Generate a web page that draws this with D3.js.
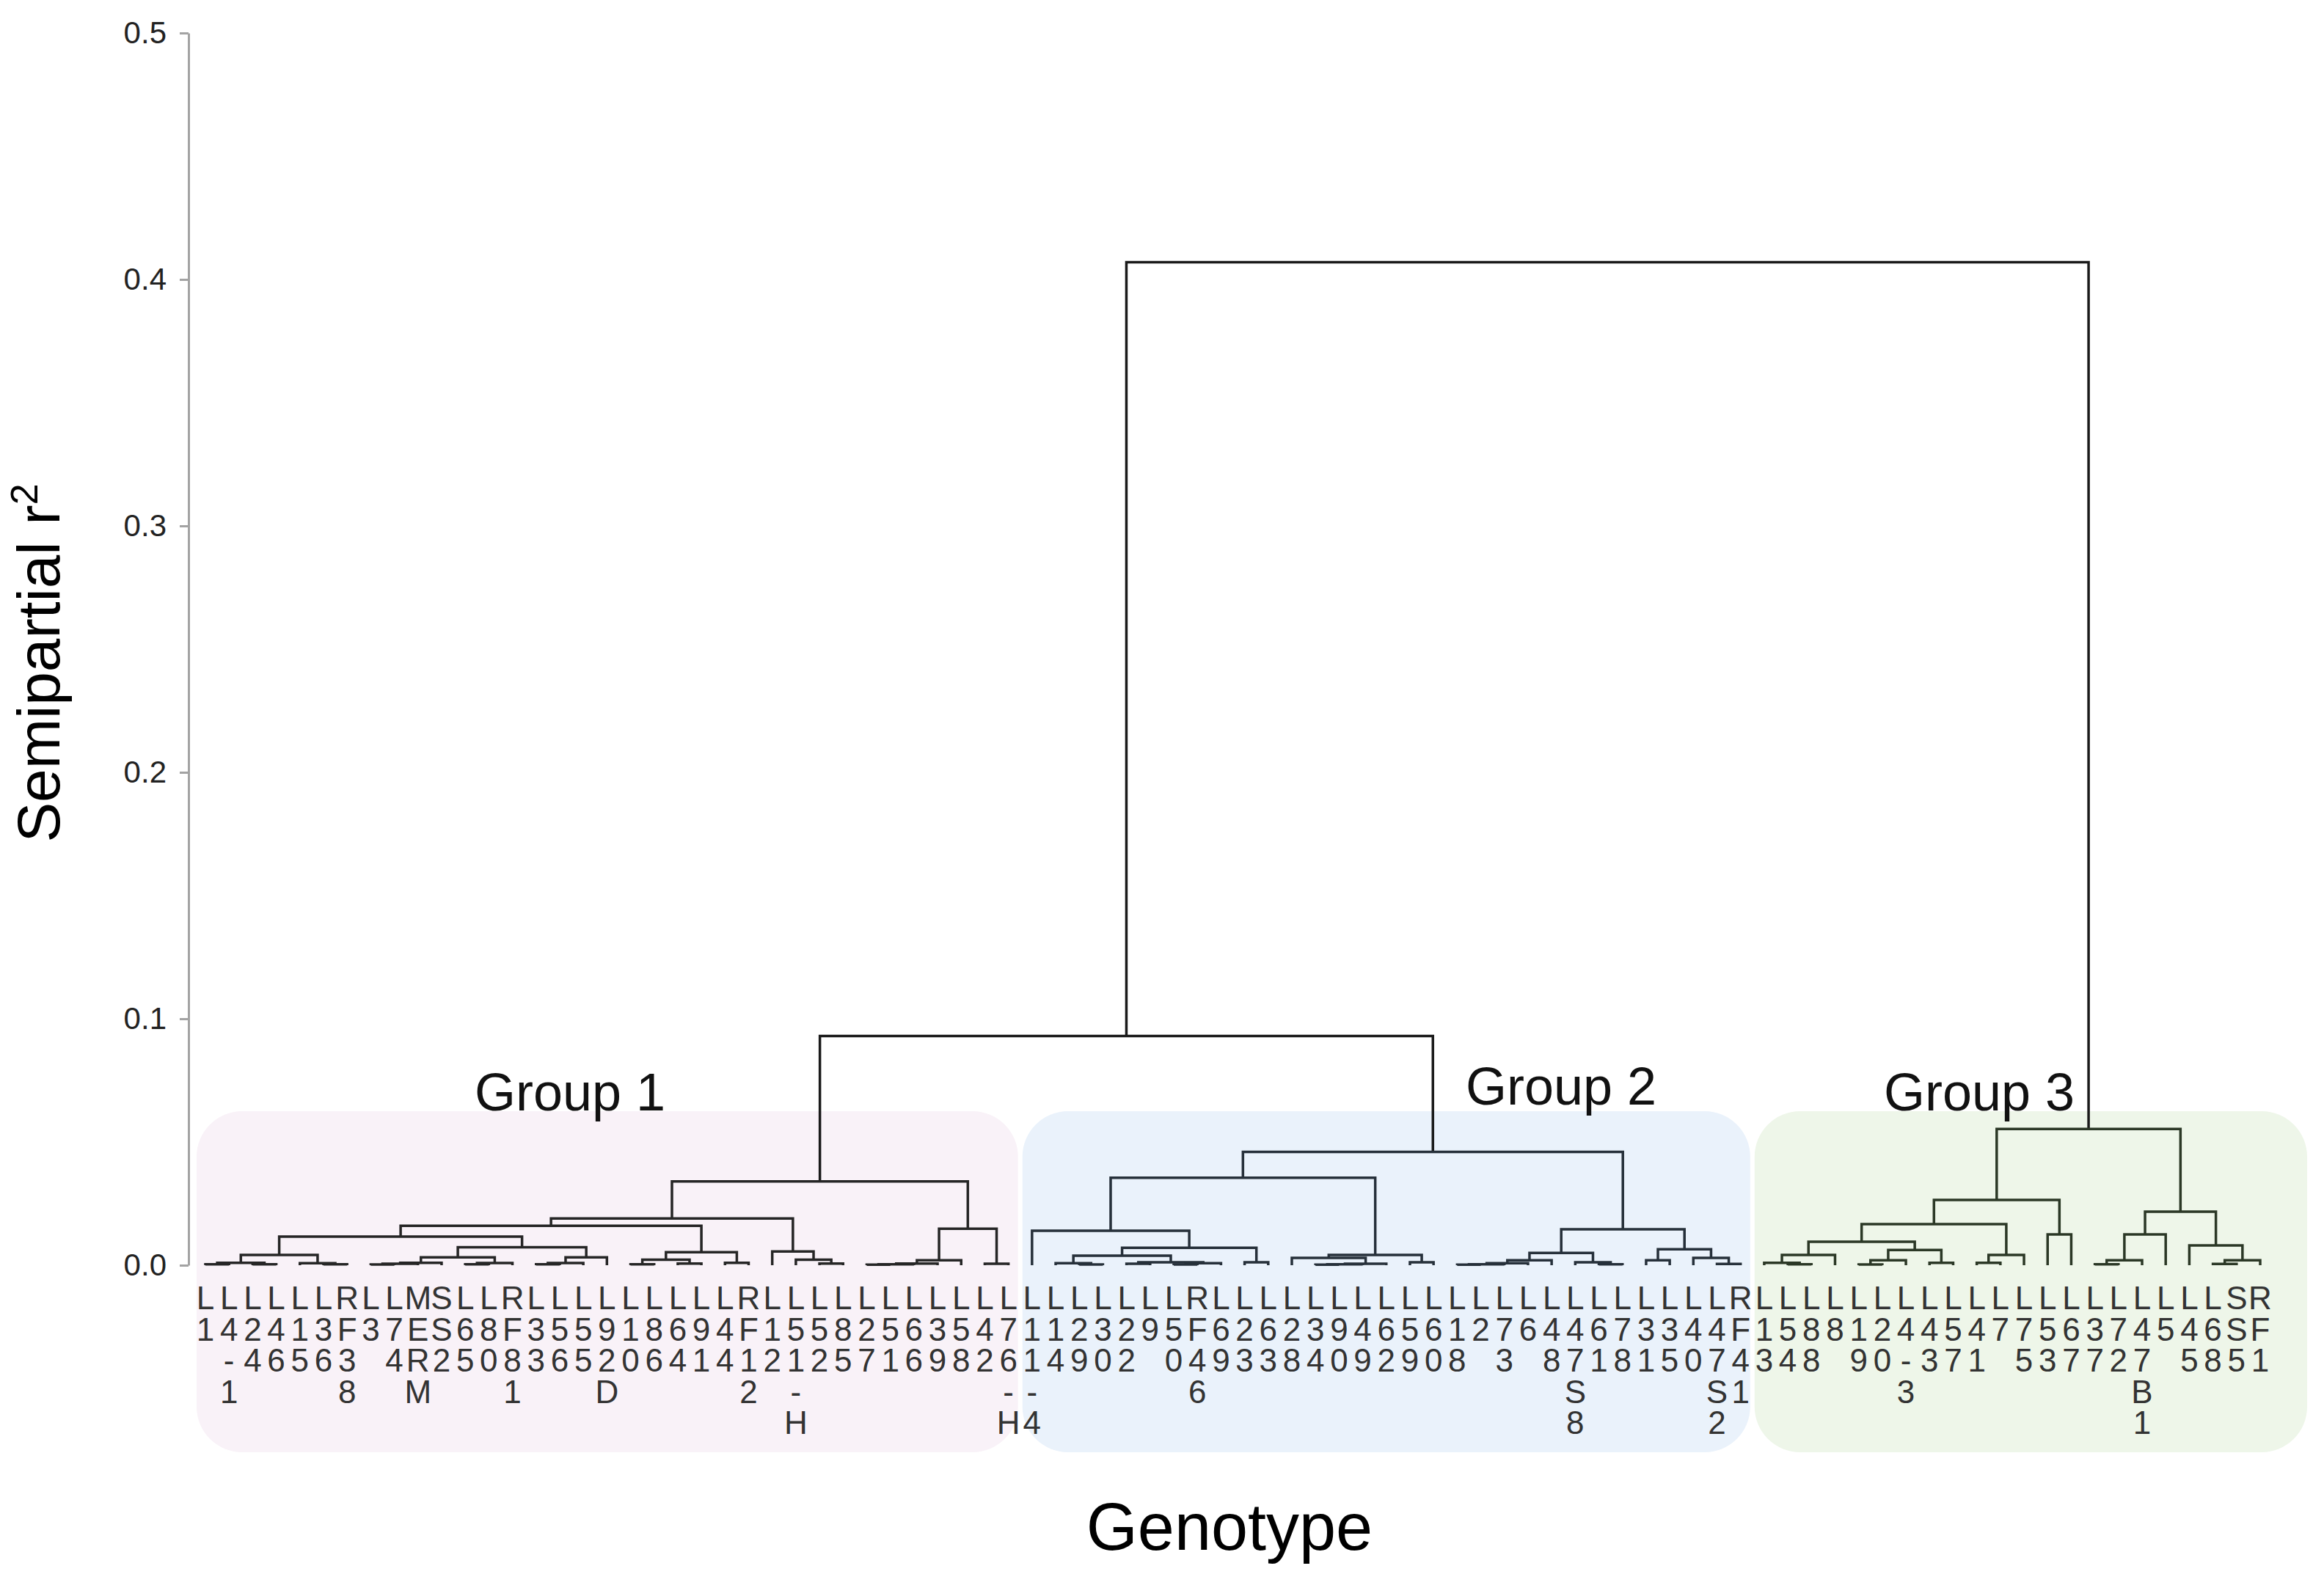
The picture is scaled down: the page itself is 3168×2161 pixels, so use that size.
<!DOCTYPE html>
<html>
<head>
<meta charset="utf-8">
<script src="https://cdn.jsdelivr.net/npm/d3@7"></script>
<style>
  body { margin: 0; background: #fff; }
  text { font-family: "Liberation Sans", Arial, sans-serif; }
</style>
</head>
<body>
<div class="dendro"></div>
<script>
// leaf labels, left to right
const leafLabels = [
  "L1","L4-1","L24","L46","L15","L36","RF38","L3","L74","MERM","SS2","L65","L80","RF81","L33",
  "L56","L55","L92D","L10","L86","L64","L91","L44","RF12","L12","L51-H","L52","L85","L27","L51",
  "L66","L39","L58","L42","L76-H",
  "L11-4","L14","L29","L30","L22","L9","L50","RF46","L69","L23","L63","L28","L34","L90","L49",
  "L62","L59","L60","L18","L2","L73","L6","L48","L47S8","L61","L78","L31","L35","L40","L47S2","RF41",
  "L13","L54","L88","L8","L19","L20","L4-3","L43","L57","L41","L7","L75","L53","L67","L37","L72",
  "L47B1","L5","L45","L68","SS5","RF1"
];

// merges: [left, right, semipartial r2]; negative = leaf number, positive = merge row
const merges = [
  [-1, -2, 0.0004], [-3, -4, 0.0004], [1, 2, 0.0010], [-6, -7, 0.0004], [-5, 4, 0.0008],
  [3, 5, 0.0042], [-8, -9, 0.0003], [7, -10, 0.0006], [8, -11, 0.0010], [-12, -13, 0.0004],
  [10, -14, 0.0009], [9, 11, 0.0032], [-15, -16, 0.0004], [13, -17, 0.0009], [14, -18, 0.0032],
  [12, 15, 0.0073], [6, 16, 0.0116], [-19, -20, 0.0004], [-21, -22, 0.0007], [18, 19, 0.0022],
  [-23, -24, 0.0010], [20, 21, 0.0053], [17, 22, 0.0160], [-27, -28, 0.0007], [-26, 24, 0.0022],
  [-25, 25, 0.0056], [23, 26, 0.0190], [-29, -30, 0.0002], [28, -31, 0.0004], [29, -32, 0.0007],
  [30, -33, 0.0020], [-34, -35, 0.0006], [31, 32, 0.0148], [27, 33, 0.0340],
  [-38, -39, 0.0003], [-37, 35, 0.0008], [-40, -41, 0.0006], [-42, -43, 0.0003], [38, -44, 0.0008],
  [37, 39, 0.0012], [36, 40, 0.0039], [-45, -46, 0.0012], [41, 42, 0.0071], [-36, 43, 0.0140],
  [-48, -49, 0.0002], [45, -50, 0.0004], [46, -51, 0.0006], [-47, 47, 0.0030], [-52, -53, 0.0012],
  [48, 49, 0.0042], [44, 50, 0.0355], [-54, -55, 0.0002], [52, -56, 0.0004], [53, -57, 0.0008],
  [54, -58, 0.0020], [-60, -61, 0.0004], [-59, 56, 0.0012], [55, 57, 0.0050], [-62, -63, 0.0020],
  [-65, -66, 0.0005], [-64, 60, 0.0030], [59, 61, 0.0065], [58, 62, 0.0146], [51, 63, 0.0460],
  [-68, -69, 0.0004], [-67, 65, 0.0010], [66, -70, 0.0042], [-71, -72, 0.0003], [68, -73, 0.0020],
  [-74, -75, 0.0010], [69, 70, 0.0062], [67, 71, 0.0095], [-76, -77, 0.0010], [73, -78, 0.0042],
  [72, 74, 0.0167], [-79, -80, 0.0125], [75, 76, 0.0265], [-81, -82, 0.0004], [78, -83, 0.0020],
  [79, -84, 0.0125], [-86, -87, 0.0005], [81, -88, 0.0020], [-85, 82, 0.0080], [80, 83, 0.0217],
  [77, 84, 0.0553], [34, 64, 0.0930], [86, 85, 0.4070]
];

const groupNames = ["Group 1", "Group 2", "Group 3"];
const groupSizes = [35, 31, 22];
const yTicks = [0, 0.1, 0.2, 0.3, 0.4, 0.5];

const W = 3168, H = 2161;
const groupFill = ["#f9f2f8", "#eaf2fb", "#eef6e9"];
const groupLine = ["#262626", "#26303a", "#2b3826"];
const groupLabelX = [777, 2128, 2698];
const groupLabelY = [1514, 1506, 1514];

const svg = d3.select(".dendro")
  .append("svg")
  .attr("width", W)
  .attr("height", H);

const y = d3.scaleLinear().domain([0, 0.5]).range([1725, 45]);
const x = d3.scalePoint().domain(d3.range(leafLabels.length)).range([280, 3081]);

// which group a leaf is in
const groupStart = d3.cumsum([0].concat(groupSizes));
function groupOf(i) {
  return d3.bisectRight(groupStart, i) - 1;
}

function build(ref) {
  if (ref < 0) return { leaf: -ref - 1, height: 0 };
  const m = merges[ref - 1];
  return { height: m[2], children: [build(m[0]), build(m[1])] };
}
const root = d3.hierarchy(build(merges.length));
root.eachAfter(function (n) {
  n.px = n.children ? d3.mean(n.children, c => c.px) : x(n.data.leaf);
});

// group boxes
groupSizes.forEach(function (s, g) {
  const first = groupStart[g], last = groupStart[g] + s - 1;
  const x0 = g == 0 ? x(first) - 12 : (x(first) + x(first - 1)) / 2 + 3;
  const x1 = g == 2 ? x(last) + 64 : (x(last) + x(last + 1)) / 2 - 3;
  svg.append("rect")
    .attr("x", x0)
    .attr("y", 1515)
    .attr("width", x1 - x0)
    .attr("height", 465)
    .attr("rx", 62)
    .attr("ry", 62)
    .style("fill", groupFill[g]);
});

// y axis
const axis = svg.append("g")
  .attr("transform", "translate(257,0)")
  .call(d3.axisLeft(y).tickValues(yTicks).tickFormat(d3.format(".1f")).tickSize(12).tickSizeOuter(0).tickPadding(18));
axis.select(".domain").style("stroke", "#a3a3a3").style("stroke-width", 3);
axis.selectAll(".tick line").style("stroke", "#a3a3a3").style("stroke-width", 3);
axis.selectAll(".tick text")
  .style("font-size", "42px")
  .style("fill", "#222")
  .style("font-family", "'Liberation Sans', Arial, sans-serif");

// links
const internal = root.descendants().filter(n => n.children);
svg.append("g")
  .selectAll("path")
  .data(internal)
  .enter()
  .append("path")
  .attr("d", function (n) {
    const a = n.children[0], b = n.children[1];
    return "M" + a.px + "," + y(a.data.height) +
      "V" + y(n.data.height) +
      "H" + b.px +
      "V" + y(b.data.height);
  })
  .style("fill", "none")
  .style("stroke", function (n) {
    const lv = n.leaves();
    const g0 = groupOf(lv[0].data.leaf), g1 = groupOf(lv[lv.length - 1].data.leaf);
    return g0 == g1 ? groupLine[g0] : "#1a1a1a";
  })
  .style("stroke-width", 3.5);

// leaf labels, one character per line
const leafG = svg.append("g")
  .selectAll("text")
  .data(root.leaves())
  .enter()
  .append("text")
  .attr("text-anchor", "middle")
  .style("font-size", "44px")
  .style("fill", "#333");
leafG.each(function (n) {
  const t = d3.select(this);
  leafLabels[n.data.leaf].split("").forEach(function (ch, k) {
    t.append("tspan")
      .attr("x", n.px)
      .attr("y", 1785 + k * 42.5)
      .text(ch);
  });
});

// group labels
groupNames.forEach(function (name, g) {
  svg.append("text")
    .attr("x", groupLabelX[g])
    .attr("y", groupLabelY[g])
    .attr("text-anchor", "middle")
    .style("font-size", "72px")
    .style("fill", "#111")
    .text(name);
});

// axis titles
svg.append("text")
  .attr("x", 1676)
  .attr("y", 2113)
  .attr("text-anchor", "middle")
  .style("font-size", "90px")
  .style("fill", "#000")
  .text("Genotype");

const yt = svg.append("text")
  .attr("transform", "translate(81,904) rotate(-90)")
  .attr("text-anchor", "middle")
  .style("font-size", "82px")
  .style("fill", "#000");
yt.append("tspan").text("Semipartial r");
yt.append("tspan").attr("dy", -30).style("font-size", "52px").text("2");
</script>
</body>
</html>
